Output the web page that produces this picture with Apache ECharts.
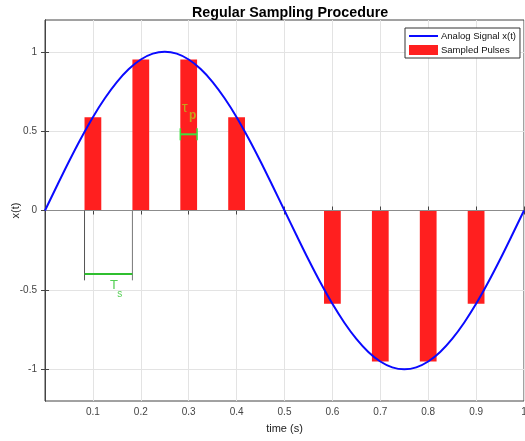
<!DOCTYPE html>
<html>
<head>
<meta charset="utf-8">
<script src="https://cdn.jsdelivr.net/npm/echarts@6/dist/echarts.min.js"></script>
<style>
html,body{margin:0;padding:0;background:#fff;}
#chart{width:525px;height:441px;}
</style>
</head>
<body>
<div id="chart"></div>
<script>
// analog signal x(t)
var signalT = [0,0.025,0.05,0.075,0.1,0.125,0.15,0.175,0.2,0.225,0.25,0.275,0.3,0.325,0.35,0.375,0.4,0.425,0.45,0.475,0.5,
	0.525,0.55,0.575,0.6,0.625,0.65,0.675,0.7,0.725,0.75,0.775,0.8,0.825,0.85,0.875,0.9,0.925,0.95,0.975,1];
var signalX = [0,0.156,0.309,0.454,0.588,0.707,0.809,0.891,0.951,0.988,1,0.988,0.951,0.891,0.809,0.707,0.588,0.454,0.309,0.156,0,
	-0.156,-0.309,-0.454,-0.588,-0.707,-0.809,-0.891,-0.951,-0.988,-1,-0.988,-0.951,-0.891,-0.809,-0.707,-0.588,-0.454,-0.309,-0.156,0];

// sampled pulses
var pulseT = [0.1,0.2,0.3,0.4,0.5,0.6,0.7,0.8,0.9];
var pulseX = [0.588,0.951,0.951,0.588,0,-0.588,-0.951,-0.951,-0.588];
var pulseWidth = 0.035;

var yTicks = [-1,-0.5,0,0.5,1];

// annotation levels
var tsLevel = -0.4, tsDrop = -0.44, tpLevel = 0.48;

var fontFam = '"Liberation Sans", Arial, sans-serif';
var red = '#ff1f1f', blue = '#0a0aff';

var lineData = [], barData = [];
for (var i = 0; i < signalT.length; i++) lineData.push([signalT[i], signalX[i]]);
for (var j = 0; j < pulseT.length; j++) barData.push([pulseT[j], pulseX[j]]);

var chart = echarts.init(document.getElementById('chart'), null, {renderer: 'canvas'});

var option = {
	animation: false,
	title: {
		text: 'Regular Sampling Procedure',
		left: 187, top: 1,
		textStyle: {fontFamily: fontFam, fontSize: 14.3, fontWeight: 'bold', color: '#000'}
	},
	legend: {
		left: 405, top: 28,
		orient: 'vertical',
		itemWidth: 29, itemHeight: 10, itemGap: 4,
		padding: [3, 4, 3, 3],
		borderColor: '#333', borderWidth: 1, backgroundColor: '#fff',
		textStyle: {fontFamily: fontFam, fontSize: 9.5, color: '#111', padding: [0, 0, 0, -2]},
		data: [
			{name: 'Analog Signal x(t)', itemStyle: {opacity: 0}},
			{name: 'Sampled Pulses', icon: 'rect'}
		]
	},
	grid: {left: 45, right: 1, top: 20, bottom: 40, containLabel: false, outerBoundsMode: 'none',
		show: true, borderColor: '#444', borderWidth: 1},
	xAxis: [{
		type: 'value', min: 0, max: 1, interval: 0.1,
		name: 'time (s)', nameLocation: 'middle', nameGap: 22, nameMoveOverlap: false,
		nameTextStyle: {fontFamily: fontFam, fontSize: 11, color: '#222'},
		axisLine: {lineStyle: {color: '#444'}},
		axisTick: {inside: true, length: 4, lineStyle: {color: '#444'}},
		axisLabel: {showMinLabel: false, fontFamily: fontFam, fontSize: 10, color: '#444', margin: 6},
		splitLine: {show: true, lineStyle: {color: '#e3e3e3'}}
	}, {
		type: 'value', min: 0, max: 1, interval: 0.1, position: 'top',
		axisLine: {lineStyle: {color: '#444'}},
		axisTick: {inside: true, length: 4, lineStyle: {color: '#444'}},
		axisLabel: {show: false}, splitLine: {show: false}
	}],
	yAxis: [{
		type: 'value', min: -1.2, max: 1.2,
		name: 'x(t)', nameLocation: 'middle', nameGap: 24, nameMoveOverlap: false,
		nameTextStyle: {fontFamily: fontFam, fontSize: 11, color: '#222'},
		axisLine: {lineStyle: {color: '#444'}},
		axisTick: {inside: true, length: 4, customValues: yTicks, lineStyle: {color: '#444'}},
		axisLabel: {customValues: yTicks, fontFamily: fontFam, fontSize: 10, color: '#444', margin: 8},
		splitLine: {show: true, lineStyle: {color: '#e3e3e3'}}
	}, {
		type: 'value', min: -1.2, max: 1.2, position: 'right',
		axisLine: {lineStyle: {color: '#444'}},
		axisTick: {inside: true, length: 4, customValues: yTicks, lineStyle: {color: '#444'}},
		axisLabel: {show: false}, splitLine: {show: false}
	}],
	series: [{
		name: 'Sampled Pulses',
		type: 'custom',
		z: 2,
		itemStyle: {color: red},
		data: barData,
		renderItem: function (params, api) {
			var t = api.value(0), v = api.value(1);
			var a = api.coord([t - pulseWidth / 2, 0]);
			var b = api.coord([t + pulseWidth / 2, v]);
			return {
				type: 'rect',
				shape: {x: a[0], y: Math.min(a[1], b[1]), width: b[0] - a[0], height: Math.abs(b[1] - a[1])},
				style: {fill: red}
			};
		}
	}, {
		name: 'annotations',
		type: 'custom',
		z: 3,
		silent: true,
		clip: false,
		data: [[0]],
		renderItem: function (params, api) {
			var z0 = api.coord([0, 0]), z1 = api.coord([1, 0]);
			var l0 = pulseT[0] - pulseWidth / 2, l1 = pulseT[1] - pulseWidth / 2;
			var v0a = api.coord([l0, 0]), v0b = api.coord([l0, tsDrop]);
			var v1a = api.coord([l1, 0]), v1b = api.coord([l1, tsDrop]);
			var ts0 = api.coord([l0, tsLevel]), ts1 = api.coord([l1, tsLevel]);
			var tp0 = api.coord([pulseT[2] - pulseWidth / 2, tpLevel]), tp1 = api.coord([pulseT[2] + pulseWidth / 2, tpLevel]);
			var tsTxt = api.coord([0.15, -0.49]), tpTxt = api.coord([0.3, 0.62]);
			var green = '#2fbf2f';
			return {
				type: 'group',
				children: [
					{type: 'line', shape: {x1: z0[0], y1: z0[1], x2: z1[0], y2: z1[1]}, style: {stroke: '#8c8c8c', lineWidth: 1.2}},
					{type: 'line', shape: {x1: v0a[0], y1: v0a[1], x2: v0b[0], y2: v0b[1]}, style: {stroke: '#555', lineWidth: 1}},
					{type: 'line', shape: {x1: v1a[0], y1: v1a[1], x2: v1b[0], y2: v1b[1]}, style: {stroke: '#777', lineWidth: 1}},
					{type: 'line', shape: {x1: ts0[0], y1: ts0[1], x2: ts1[0], y2: ts1[1]}, style: {stroke: green, lineWidth: 2}},
					{type: 'line', shape: {x1: tp0[0], y1: tp0[1], x2: tp1[0], y2: tp1[1]}, style: {stroke: '#3ee03e', lineWidth: 2}},
					{type: 'line', shape: {x1: tp0[0], y1: tp0[1] - 6, x2: tp0[0], y2: tp0[1] + 6}, style: {stroke: '#3ee03e', lineWidth: 1.5}},
					{type: 'line', shape: {x1: tp1[0], y1: tp1[1] - 6, x2: tp1[0], y2: tp1[1] + 6}, style: {stroke: '#3ee03e', lineWidth: 1.5}},
					{type: 'text', x: tsTxt[0] - 3, y: tsTxt[1] - 3, style: {text: 'T', fill: '#55d055', font: '13px ' + fontFam, align: 'center', verticalAlign: 'middle'}},
					{type: 'text', x: tsTxt[0] + 3, y: tsTxt[1] + 6, style: {text: 's', fill: '#55d055', font: '10px ' + fontFam, align: 'center', verticalAlign: 'middle'}},
					{type: 'text', x: tpTxt[0] - 4, y: tpTxt[1] - 4, style: {text: 'τ', fill: '#c2a41c', font: '15px ' + fontFam, align: 'center', verticalAlign: 'middle'}},
					{type: 'text', x: tpTxt[0] + 4, y: tpTxt[1] + 4, style: {text: 'p', fill: '#c2a41c', font: 'bold 12px ' + fontFam, align: 'center', verticalAlign: 'middle'}}
				]
			};
		}
	}, {
		name: 'Analog Signal x(t)',
		type: 'line',
		z: 4,
		symbol: 'none',
		smooth: 0.3,
		data: lineData,
		itemStyle: {color: blue},
		lineStyle: {color: blue, width: 2}
	}]
};

chart.setOption(option);
</script>
</body>
</html>
